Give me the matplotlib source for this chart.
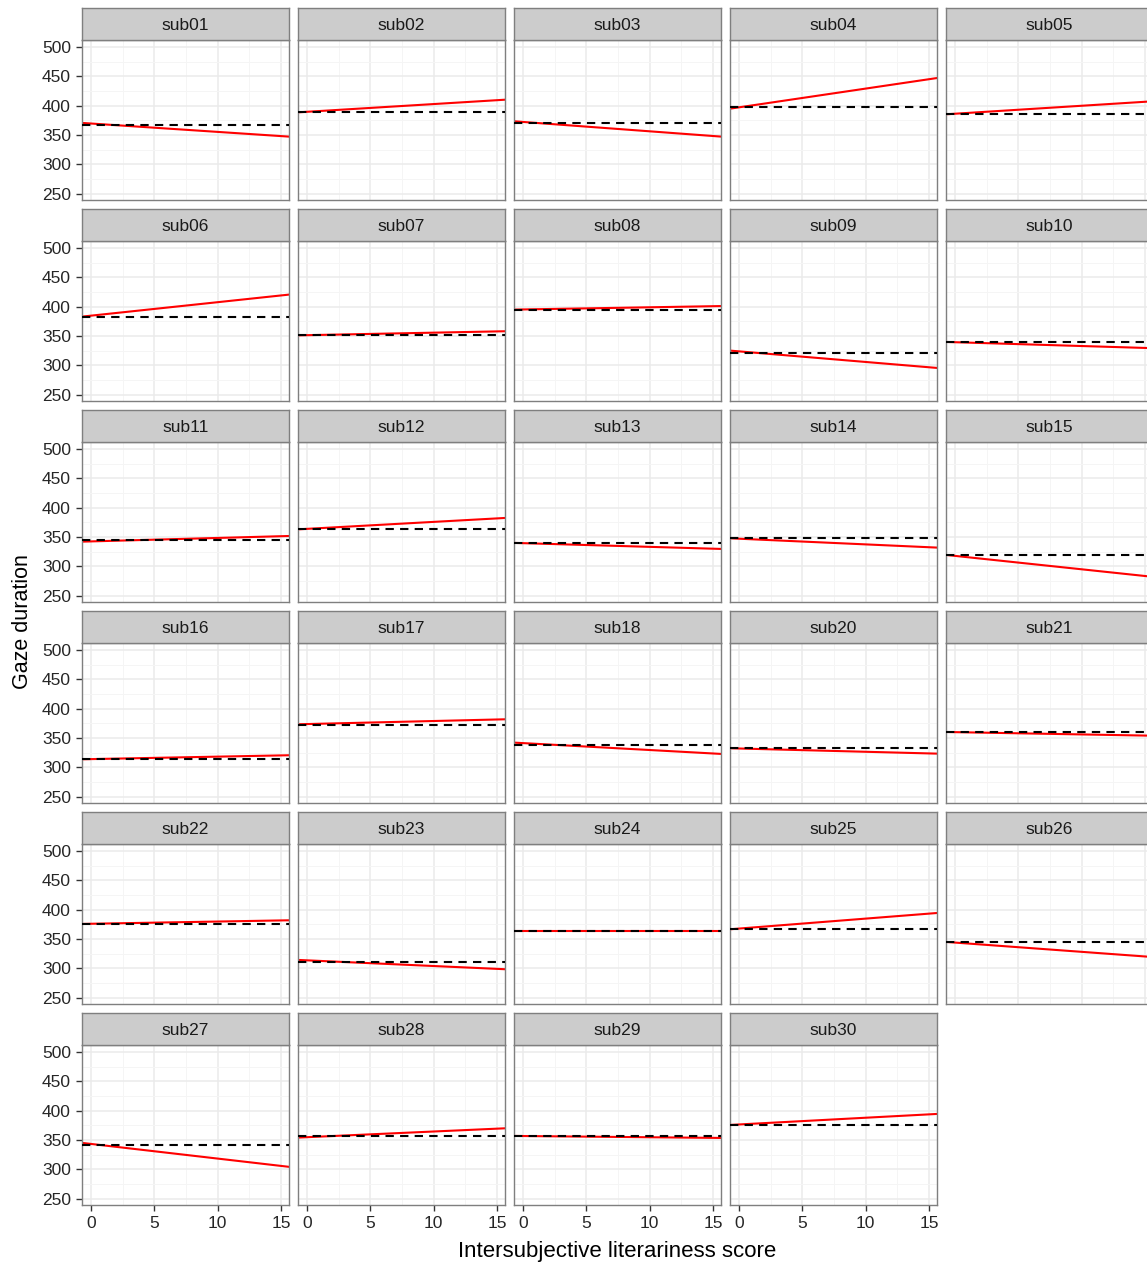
import numpy as np
import matplotlib
matplotlib.use("Agg")
import matplotlib.pyplot as plt

plt.rcParams['font.family'] = ['Liberation Sans', 'DejaVu Sans']

# per-subject fitted line (red) and reference level (dashed)
subjects = ["sub01", "sub02", "sub03", "sub04", "sub05",
            "sub06", "sub07", "sub08", "sub09", "sub10",
            "sub11", "sub12", "sub13", "sub14", "sub15",
            "sub16", "sub17", "sub18", "sub20", "sub21",
            "sub22", "sub23", "sub24", "sub25", "sub26",
            "sub27", "sub28", "sub29", "sub30"]
intercepts = [369.5, 389.5, 372.2, 397.1, 386.2,
              384.6, 351.3, 395.2, 323.7, 339.3,
              342.4, 363.8, 339.4, 347.0, 317.7,
              313.9, 373.7, 341.2, 332.0, 359.9,
              375.9, 313.5, 363.0, 367.7, 343.8,
              343.2, 354.7, 356.7, 376.4]
slopes = [-1.43, 1.32, -1.60, 3.20, 1.36,
          2.30, 0.43, 0.37, -1.81, -0.65,
          0.59, 1.19, -0.63, -0.97, -2.29,
          0.42, 0.52, -1.18, -0.56, -0.39,
          0.38, -0.97, 0.0, 1.70, -1.58,
          -2.50, 0.97, -0.21, 1.15]
baselines = [366.5, 388.6, 370.5, 397.7, 385.2,
             381.8, 351.0, 394.3, 321.0, 339.8,
             344.9, 363.0, 339.2, 347.7, 319.9,
             313.6, 372.7, 338.6, 332.4, 360.2,
             375.6, 310.8, 363.0, 366.5, 344.9,
             341.5, 356.8, 356.8, 375.6]

xticks = [0, 5, 10, 15]
yticks = [250, 300, 350, 400, 450, 500]
xlim = (-0.71, 15.63)
ylim = (239, 512)

W, H = 1147, 1263
fig = plt.figure(figsize=(W / 100, H / 100), dpi=100)

ncol = 5
nrow = (len(subjects) + ncol - 1) // ncol
col_left = [82, 298, 514, 730, 946]
pw = 207
row_step = 201
strip_h = 32
panel_h = 160
top0 = 8

grey50 = "#7F7F7F"

for i, name in enumerate(subjects):
    r, c = divmod(i, ncol)
    x0 = col_left[c]
    ytop = top0 + row_step * r + strip_h
    ax = fig.add_axes([x0 / W, 1 - (ytop + panel_h) / H, pw / W, panel_h / H])
    ax.set_xlim(xlim)
    ax.set_ylim(ylim)
    ax.set_xticks(xticks)
    ax.set_yticks(yticks)
    ax.set_xticks([2.5, 7.5, 12.5], minor=True)
    ax.set_yticks([275, 325, 375, 425, 475], minor=True)
    ax.grid(which="major", color="#EBEBEB", linewidth=1.1)
    ax.grid(which="minor", color="#F5F5F5", linewidth=0.7)
    ax.set_axisbelow(True)
    for s in ax.spines.values():
        s.set_color(grey50)
        s.set_linewidth(1.0)
    ax.tick_params(which="minor", length=0)
    ax.tick_params(which="major", length=4, width=1, color="#333333",
                   labelsize=12.5, labelcolor="#262626", pad=4)

    # axes only on the outer panels, x axis on the last row only
    if c != 0:
        ax.tick_params(axis="y", left=False, labelleft=False)
    if r != nrow - 1:
        ax.tick_params(axis="x", bottom=False, labelbottom=False)

    ax.axhline(baselines[i], color="black", linewidth=1.5, linestyle=(0, (4, 3)), zorder=3)
    ax.axline((0, intercepts[i]), slope=slopes[i], color="red", linewidth=1.5, zorder=2)

    # facet strip
    sax = fig.add_axes([x0 / W, 1 - ytop / H, pw / W, strip_h / H])
    sax.set_xticks([])
    sax.set_yticks([])
    sax.set_facecolor("#CCCCCC")
    for s in sax.spines.values():
        s.set_color(grey50)
        s.set_linewidth(1.0)
    sax.text(0.5, 0.45, name, ha="center", va="center", fontsize=12.5,
             color="#1A1A1A", transform=sax.transAxes)

fig.text(617 / W, 1 - 1251 / H, "Intersubjective literariness score",
         ha="center", va="center", fontsize=16)
fig.text(22 / W, 1 - 622 / H, "Gaze duration", ha="center", va="center",
         rotation=90, fontsize=15.5)

fig.savefig("out.png", dpi=100, facecolor="white")
